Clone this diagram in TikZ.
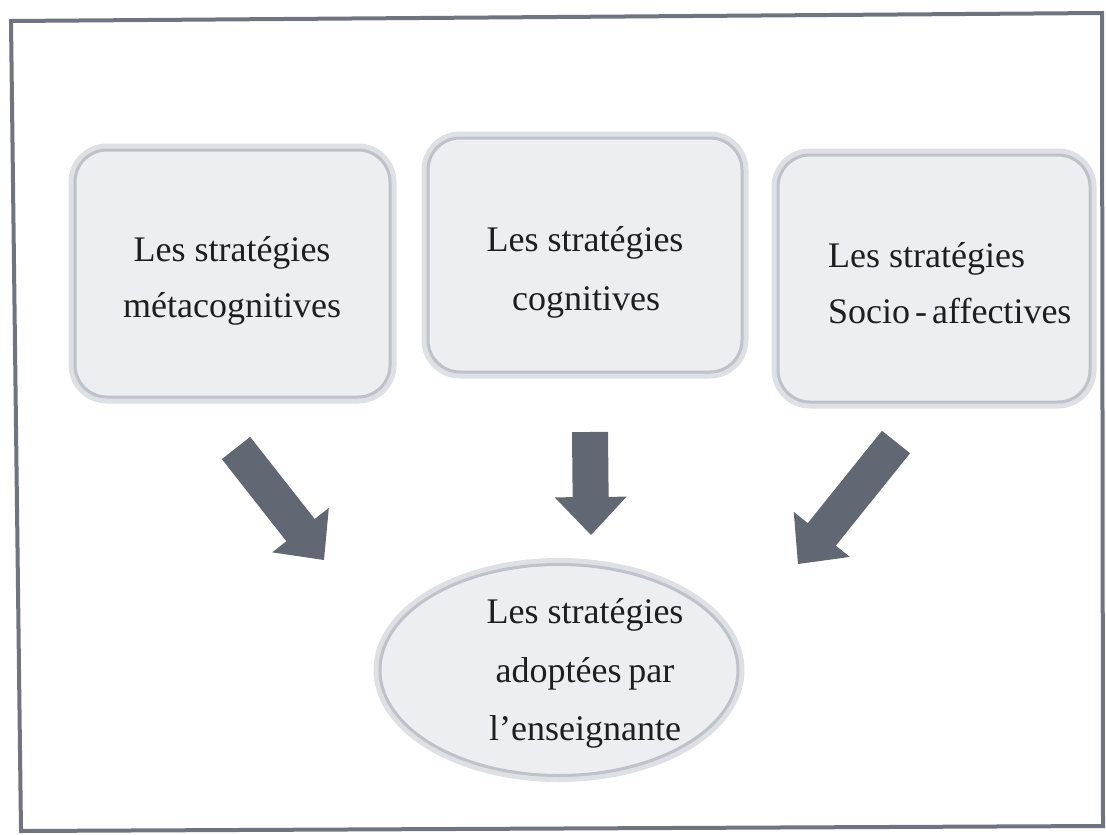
\documentclass[tikz,border=0pt]{standalone}
\usepackage{fontspec}
\setmainfont{Liberation Serif}
\usetikzlibrary{calc,shapes.geometric}
\definecolor{framecol}{HTML}{6E7480}
\definecolor{boxfill}{HTML}{EDEEF1}
\definecolor{boxline}{HTML}{BEC2C9}
\definecolor{boxglow}{HTML}{DDE0E5}
\definecolor{arrowcol}{HTML}{626873}
\definecolor{textcol}{HTML}{1E1E1E}
\tikzset{
  stratbox/.style={rectangle, rounded corners=32pt, draw=boxline, line width=3pt,
    fill=boxfill, preaction={draw=boxglow, line width=13pt}, inner sep=0pt},
  stratell/.style={ellipse, draw=boxline, line width=3pt, fill=boxfill,
    preaction={draw=boxglow, line width=13pt}, inner sep=0pt},
  lbl/.style={inner sep=0pt, text=textcol, font=\fontsize{36}{43}\selectfont},
  arrowfill/.style={fill=arrowcol}
}
\newcommand{\blockarr}[2]{%
  \path ($(#2)!38pt!(#1)$) coordinate (H);
  \fill[arrowfill] ($(#1)!18pt!90:(#2)$) -- ($(H)!18pt!-90:(#1)$) -- ($(H)!36pt!-90:(#1)$)
    -- (#2) -- ($(H)!36pt!90:(#1)$) -- ($(H)!18pt!90:(#1)$) -- ($(#1)!18pt!-90:(#2)$) -- cycle;
}
\begin{document}
\begin{tikzpicture}[x=1pt,y=-1pt]
\useasboundingbox (0,0) rectangle (1106,835);
\fill[white] (0,0) rectangle (1106,835);
% frame
\draw[framecol, line width=4pt, line join=miter] (11,21) -- (1102,13) -- (1103,826) -- (21,831) -- cycle;
% boxes
\node[stratbox, minimum width=315pt, minimum height=247pt] (b1) at (232.5,273.5) {};
\node[stratbox, minimum width=314pt, minimum height=234pt] (b2) at (585,255) {};
\node[stratbox, minimum width=312pt, minimum height=247pt] (b3) at (934,278.5) {};
\node[stratell, minimum width=358pt, minimum height=211pt] (e) at (559,670) {};
% labels
\node[lbl, anchor=base] (t1a) at (232,261) {Les stratégies};
\node[lbl, anchor=base] (t1b) at (232,317) {métacognitives};
\node[lbl, anchor=base] (t2a) at (585,251) {Les stratégies};
\node[lbl, anchor=base] (t2b) at (586,310) {cognitives};
\node[lbl, anchor=base west] (t3a) at (828,267) {Les stratégies};
\node[lbl, anchor=base west] (t3b) at (828,323) {Socio\hspace{5pt}-\hspace{5pt}affectives};
\node[lbl, anchor=base] (tea) at (585,623) {Les stratégies};
\node[lbl, anchor=base] (teb) at (585,682) {adoptées\hspace{7pt}par};
\node[lbl, anchor=base] (tec) at (585,740) {l’enseignante};
% arrows
\coordinate (a1) at (236,448); \coordinate (p1) at (324,560);
\coordinate (a2) at (590,432); \coordinate (p2) at (591,535);
\coordinate (a3) at (896,442); \coordinate (p3) at (798,564);
\blockarr{a1}{p1}
\blockarr{a2}{p2}
\blockarr{a3}{p3}
\end{tikzpicture}
\end{document}
